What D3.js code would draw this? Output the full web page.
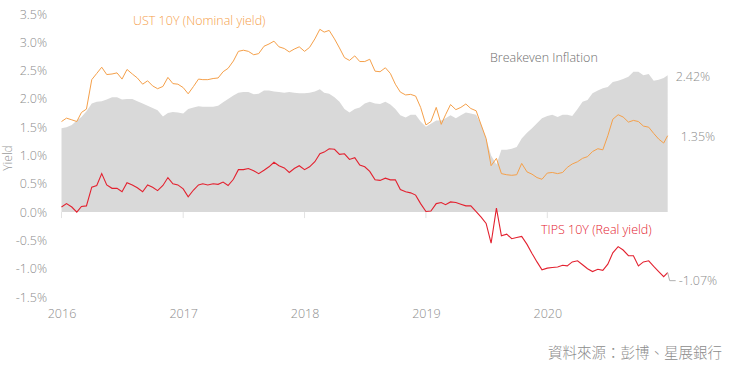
<!DOCTYPE html>
<html>
<head>
<meta charset="utf-8">
<script src="https://cdn.jsdelivr.net/npm/d3@7"></script>
<style>
  body { margin: 0; background: #fff; }
  svg text { font-family: "Open Sans", "Segoe UI", sans-serif; font-weight: 300; }
</style>
</head>
<body>
<div id="chart"></div>
<script>
// semi-monthly observations
var dates = [
  "2016-01-01","2016-01-16","2016-02-01","2016-02-16","2016-03-01","2016-03-16","2016-04-01","2016-04-16",
  "2016-05-01","2016-05-16","2016-06-01","2016-06-16","2016-07-01","2016-07-16","2016-08-01","2016-08-16",
  "2016-09-01","2016-09-16","2016-10-01","2016-10-16","2016-11-01","2016-11-16","2016-12-01","2016-12-16",
  "2017-01-01","2017-01-16","2017-02-01","2017-02-16","2017-03-01","2017-03-16","2017-04-01","2017-04-16",
  "2017-05-01","2017-05-16","2017-06-01","2017-06-16","2017-07-01","2017-07-16","2017-08-01","2017-08-16",
  "2017-09-01","2017-09-16","2017-10-01","2017-10-16","2017-11-01","2017-11-16","2017-12-01","2017-12-16",
  "2018-01-01","2018-01-16","2018-02-01","2018-02-16","2018-03-01","2018-03-16","2018-04-01","2018-04-16",
  "2018-05-01","2018-05-16","2018-06-01","2018-06-16","2018-07-01","2018-07-16","2018-08-01","2018-08-16",
  "2018-09-01","2018-09-16","2018-10-01","2018-10-16","2018-11-01","2018-11-16","2018-12-01","2018-12-16",
  "2019-01-01","2019-01-16","2019-02-01","2019-02-16","2019-03-01","2019-03-16","2019-04-01","2019-04-16",
  "2019-05-01","2019-05-16","2019-06-01","2019-06-16","2019-07-01","2019-07-16","2019-08-01","2019-08-16",
  "2019-09-01","2019-09-16","2019-10-01","2019-10-16","2019-11-01","2019-11-16","2019-12-01","2019-12-16",
  "2020-01-01","2020-01-16","2020-02-01","2020-02-16","2020-03-01","2020-03-16","2020-04-01","2020-04-16",
  "2020-05-01","2020-05-16","2020-06-01","2020-06-16","2020-07-01","2020-07-16","2020-08-01","2020-08-16",
  "2020-09-01","2020-09-16","2020-10-01","2020-10-16","2020-11-01","2020-11-16","2020-12-01","2020-12-16",
  "2020-12-28"
]

// UST 10Y nominal yield (%)
var ust10y = [
  1.60,1.66,1.63,1.60,1.76,1.82,2.34,2.45, 2.56,2.43,2.44,2.46,2.35,2.52,2.44,2.37,
  2.26,2.32,2.23,2.18,2.22,2.38,2.27,2.26, 2.20,2.09,2.22,2.35,2.34,2.34,2.36,2.37,
  2.48,2.54,2.67,2.84,2.86,2.84,2.78,2.80, 2.93,2.97,3.02,2.92,2.89,2.83,2.88,2.92,
  2.84,2.91,3.06,3.23,3.18,3.21,3.06,2.90, 2.73,2.68,2.76,2.66,2.66,2.70,2.49,2.48,
  2.55,2.45,2.26,2.12,2.07,2.08,2.05,1.85, 1.54,1.60,1.85,1.55,1.72,1.90,1.81,1.85,
  1.91,1.83,1.79,1.54,1.30,0.82,0.95,0.68, 0.66,0.65,0.66,0.86,0.71,0.67,0.61,0.58,
  0.69,0.70,0.68,0.70,0.79,0.85,0.89,0.95, 0.98,1.07,1.12,1.10,1.35,1.64,1.72,1.68,
  1.59,1.62,1.60,1.52,1.50,1.39,1.29,1.22, 1.35
]

// TIPS 10Y real yield (%)
var tips10y = [
  0.09,0.15,0.09,0.00,0.10,0.11,0.44,0.47, 0.68,0.48,0.42,0.42,0.36,0.52,0.48,0.43,
  0.36,0.48,0.44,0.38,0.47,0.61,0.50,0.48, 0.41,0.27,0.39,0.48,0.50,0.48,0.50,0.49,
  0.53,0.47,0.58,0.75,0.75,0.77,0.73,0.68, 0.74,0.80,0.88,0.82,0.78,0.70,0.77,0.82,
  0.75,0.80,0.89,1.03,1.06,1.12,1.11,1.02, 1.03,0.93,0.96,0.83,0.80,0.72,0.57,0.56,
  0.60,0.57,0.57,0.40,0.36,0.34,0.30,0.15, 0.01,0.02,0.15,0.17,0.13,0.18,0.17,0.14,
  0.11,0.11,0.01,-0.09,-0.20,-0.55,0.07,-0.42, -0.39,-0.47,-0.45,-0.43,-0.57,-0.73,-0.88,-1.02,
  -0.99,-0.98,-0.97,-0.94,-0.95,-0.88,-0.86,-0.93, -1.00,-1.05,-1.01,-1.03,-0.92,-0.72,-0.61,-0.67,
  -0.77,-0.77,-0.95,-0.88,-0.86,-0.96,-1.05,-1.14, -1.07
]

// Breakeven inflation (%)
var breakeven = [
  1.48,1.50,1.54,1.62,1.68,1.78,1.92,1.95, 1.96,1.99,2.03,2.03,1.99,2.00,2.00,1.96,
  1.92,1.88,1.84,1.80,1.69,1.75,1.77,1.76, 1.74,1.82,1.85,1.87,1.86,1.86,1.86,1.88,
  1.94,2.00,2.06,2.11,2.12,2.12,2.08,2.09, 2.15,2.15,2.13,2.12,2.11,2.12,2.11,2.10,
  2.10,2.11,2.13,2.17,2.11,2.09,2.03,1.95, 1.82,1.76,1.82,1.85,1.92,1.95,1.92,1.91,
  1.95,1.90,1.82,1.71,1.67,1.72,1.72,1.60, 1.51,1.56,1.62,1.62,1.66,1.71,1.66,1.71,
  1.76,1.74,1.72,1.55,1.30,1.00,0.84,1.10, 1.10,1.12,1.15,1.30,1.40,1.48,1.57,1.66,
  1.70,1.72,1.68,1.72,1.72,1.70,1.82,1.95, 1.98,2.10,2.15,2.19,2.21,2.30,2.32,2.35,
  2.39,2.48,2.48,2.42,2.44,2.32,2.34,2.37, 2.42
]

var yTicks = [-1.5, -1.0, -0.5, 0.0, 0.5, 1.0, 1.5, 2.0, 2.5, 3.0, 3.5]
var xTicks = ["2016-01-01", "2017-01-01", "2018-01-01", "2019-01-01", "2020-01-01"]

var labelUST = "UST 10Y (Nominal yield)"
var labelTIPS = "TIPS 10Y (Real yield)"
var labelBE = "Breakeven Inflation"
var labelY = "Yield"
var sourceText = "資料來源：彭博、星展銀行"

var parse = d3.timeParse("%Y-%m-%d")
var data = dates.map(function (d, i) {
    return { date: parse(d), ust: ust10y[i], tips: tips10y[i], be: breakeven[i] }
})

var width = 749, height = 373

var scale_x = d3.scaleTime()
    .domain([parse("2016-01-01"), parse("2021-01-01")])
    .range([61.5, 669])

var scale_y = d3.scaleLinear()
    .domain([-1.5, 3.5])
    .range([297, 14])

var svg = d3.select("#chart")
    .append("svg")
    .attr("width", width)
    .attr("height", height)

// breakeven area
svg.append("path")
    .datum(data)
    .attr("fill", "#d9d9d9")
    .attr("d", d3.area()
        .x(d => scale_x(d.date))
        .y0(scale_y(0))
        .y1(d => scale_y(d.be)))

// year ticks on the zero line
svg.append("g")
    .selectAll("line")
    .data(xTicks)
    .enter()
    .append("line")
    .attr("x1", d => scale_x(parse(d)))
    .attr("x2", d => scale_x(parse(d)))
    .attr("y1", scale_y(0))
    .attr("y2", scale_y(0) + 6)
    .attr("stroke", "#e2e2e2")

// lines
var line = function (key) {
    return d3.line().x(d => scale_x(d.date)).y(d => scale_y(d[key]))
}

svg.append("path")
    .datum(data)
    .attr("fill", "none")
    .attr("stroke", "#f5a04a")
    .attr("stroke-width", 1)
    .attr("d", line("ust"))

svg.append("path")
    .datum(data)
    .attr("fill", "none")
    .attr("stroke", "#e3212f")
    .attr("stroke-width", 1.1)
    .attr("d", line("tips"))

// axes
var axisY = svg.append("g")
    .attr("transform", "translate(51,0)")
    .call(d3.axisLeft(scale_y).tickValues(yTicks).tickSize(0).tickPadding(4)
        .tickFormat(d => d.toFixed(1) + "%"))
axisY.select(".domain").remove()
axisY.selectAll("text")
    .attr("fill", "#8c8c8c")
    .style("font-size", "12.5px")

var axisX = svg.append("g")
    .attr("transform", "translate(0,297)")
    .call(d3.axisBottom(scale_x).tickValues(xTicks.map(parse)).tickSize(0).tickPadding(12)
        .tickFormat(d3.timeFormat("%Y")))
axisX.select(".domain").remove()
axisX.selectAll("text")
    .attr("fill", "#8c8c8c")
    .style("font-size", "12.5px")

svg.append("text")
    .attr("transform", "translate(12,158) rotate(-90)")
    .attr("text-anchor", "middle")
    .attr("fill", "#999")
    .style("font-size", "12px")
    .text(labelY)

// series labels
svg.append("text")
    .attr("x", 133).attr("y", 24.5)
    .attr("fill", "#f5a04a")
    .style("font-size", "12.5px")
    .text(labelUST)

svg.append("text")
    .attr("x", 490).attr("y", 61.5)
    .attr("fill", "#6e6e6e")
    .style("font-size", "12.5px")
    .text(labelBE)

svg.append("text")
    .attr("x", 541).attr("y", 233.5)
    .attr("fill", "#e3212f")
    .style("font-size", "12.5px")
    .text(labelTIPS)

// end values
var last = data[data.length - 1]
var xEnd = scale_x(last.date)

svg.append("text")
    .attr("x", xEnd + 8).attr("y", scale_y(last.be) + 1)
    .attr("dy", "0.35em")
    .attr("fill", "#8c8c8c")
    .style("font-size", "12.5px")
    .text(last.be.toFixed(2) + "%")

svg.append("text")
    .attr("x", xEnd + 13).attr("y", scale_y(last.ust) + 1)
    .attr("dy", "0.35em")
    .attr("fill", "#8c8c8c")
    .style("font-size", "12.5px")
    .text(last.ust.toFixed(2) + "%")

svg.append("polyline")
    .attr("points", [[xEnd, scale_y(last.tips)], [xEnd + 2, scale_y(last.tips) + 8], [xEnd + 8, scale_y(last.tips) + 8]].join(" "))
    .attr("fill", "none")
    .attr("stroke", "#b0b0b0")
    .attr("stroke-width", 1)

svg.append("text")
    .attr("x", xEnd + 11).attr("y", scale_y(last.tips) + 8)
    .attr("dy", "0.35em")
    .attr("fill", "#8c8c8c")
    .style("font-size", "12.5px")
    .text("-" + Math.abs(last.tips).toFixed(2) + "%")

// source
svg.append("text")
    .attr("x", 722).attr("y", 358)
    .attr("text-anchor", "end")
    .attr("fill", "#8c8c8c")
    .style("font-family", "'Noto Sans CJK TC', sans-serif")
    .style("font-size", "14.5px")
    .text(sourceText)
</script>
</body>
</html>
